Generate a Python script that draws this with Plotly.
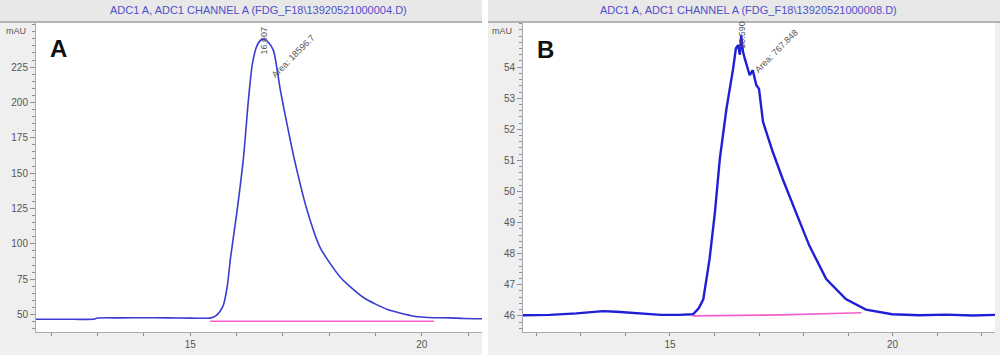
import plotly.graph_objects as go

W, H = 1000, 355

# ---------------- data ----------------
titles = ["ADC1 A, ADC1 CHANNEL A (FDG_F18\\13920521000004.D)",
          "ADC1 A, ADC1 CHANNEL A (FDG_F18\\13920521000008.D)"]
panel_labels = ["A", "B"]
x_ticks = [15, 20]
a_yticks = [50, 75, 100, 125, 150, 175, 200, 225]
b_yticks = [46, 47, 48, 49, 50, 51, 52, 53, 54]

# Chromatogram A (time in min, signal in mAU)
a_time = [11.67, 12.5, 12.9, 13.0, 13.5, 14.0, 14.5, 15.0, 15.3, 15.43, 15.55, 15.65, 15.72, 15.80, 15.87,
          16.01, 16.15, 16.26, 16.34, 16.44, 16.52, 16.60, 16.70, 16.80, 16.95, 17.09,
          17.24, 17.53, 17.81, 18.25, 18.75, 19.26, 19.83, 20.26, 20.6, 20.9, 21.3]
a_signal = [46.6, 46.6, 46.6, 47.5, 47.6, 47.7, 47.6, 47.4, 47.3, 47.4, 49.0, 52.5, 57.0, 70.0, 90.0,
            123.0, 161.0, 203.0, 227.0, 240.0, 244.0, 244.7, 242.0, 236.5, 208.0, 184.6,
            161.0, 123.0, 97.0, 76.0, 61.8, 53.5, 48.8, 47.7, 47.6, 47.2, 47.0]
a_base_time = [15.43, 20.26]
a_base_signal = [45.2, 45.2]
a_peak = dict(rt="16.607", area="Area: 18596.7")

# Chromatogram B
b_time = [11.7, 12.3, 12.9, 13.2, 13.5, 13.8, 14.1, 14.4, 14.8, 15.2, 15.52, 15.65, 15.75,
          15.89, 16.01, 16.12, 16.27, 16.42, 16.48, 16.53, 16.57, 16.60, 16.64, 16.68,
          16.73, 16.79, 16.86, 16.94, 17.0, 17.09, 17.31, 17.53, 17.83, 18.13, 18.51,
          18.95, 19.40, 19.99, 20.6, 21.2, 21.8, 22.3]
b_signal = [46.02, 46.03, 46.08, 46.12, 46.15, 46.13, 46.1, 46.06, 46.03, 46.03, 46.05, 46.25, 46.54,
            47.83, 49.33, 51.05, 52.67, 53.96, 54.6, 54.71, 54.4, 55.03, 54.5, 54.28,
            54.0, 53.74, 53.9, 53.42, 53.3, 52.24, 51.27, 50.41, 49.33, 48.26, 47.18,
            46.54, 46.2, 46.05, 46.02, 46.04, 46.01, 46.03]
b_base_time = [15.5, 17.5, 19.3]
b_base_signal = [46.0, 46.03, 46.1]
b_peak = dict(rt="16.590", area="Area: 767.848")

# ---------------- layout geometry (pixels) ----------------
def px_x(p):
    return p / W

def px_y(p):
    return 1 - p / H

fig = go.Figure()

blue_a = "#3b3bd0"
blue_b = "#1f1fd6"
magenta = "#f060d0"

fig.add_trace(go.Scatter(x=a_time, y=a_signal, mode="lines",
                         line=dict(color=blue_a, width=1.6, shape="spline", smoothing=0.6),
                         xaxis="x", yaxis="y", hoverinfo="skip"))
fig.add_trace(go.Scatter(x=a_base_time, y=a_base_signal, mode="lines", line=dict(color=magenta, width=1.6),
                         xaxis="x", yaxis="y", hoverinfo="skip"))
fig.add_trace(go.Scatter(x=b_time, y=b_signal, mode="lines", line=dict(color=blue_b, width=2.4),
                         xaxis="x2", yaxis="y2", hoverinfo="skip"))
fig.add_trace(go.Scatter(x=b_base_time, y=b_base_signal, mode="lines", line=dict(color=magenta, width=1.6),
                         xaxis="x2", yaxis="y2", hoverinfo="skip"))

tickfont = dict(family="Liberation Sans, Arial, sans-serif", size=10, color="#555555")
ydom = [px_y(332), px_y(23)]

common_x = dict(showgrid=False, zeroline=False, showline=True, linecolor="#a8a8b8", linewidth=1,
                ticks="outside", ticklen=3, tickcolor="#909090", tickmode="array", tickvals=x_ticks,
                tickfont=tickfont, minor=dict(dtick=1, tick0=0, ticks="outside", ticklen=3, tickcolor="#909090"),
                mirror=False, automargin=False)
common_y = dict(showgrid=False, zeroline=False, showline=True, linecolor="#a8a8b8", linewidth=1,
                ticks="outside", ticklen=5, tickcolor="#909090", tickfont=tickfont, mirror=False,
                automargin=False, tickmode="array")

fig.update_layout(
    width=W, height=H,
    margin=dict(l=0, r=0, t=0, b=0),
    paper_bgcolor="#efefef",
    plot_bgcolor="#ffffff",
    showlegend=False,
    xaxis=dict(domain=[px_x(36), px_x(482)], range=[11.67, 21.3], anchor="y", **common_x),
    yaxis=dict(domain=ydom, range=[37.6, 256.2], anchor="x", tickvals=a_yticks,
               minor=dict(dtick=5, tick0=0, ticks="outside", ticklen=3, tickcolor="#909090"), **common_y),
    xaxis2=dict(domain=[px_x(523), px_x(995)], range=[11.7, 22.3], anchor="y2", **common_x),
    yaxis2=dict(domain=ydom, range=[45.48, 55.42], anchor="x2", tickvals=b_yticks,
                minor=dict(dtick=0.2, tick0=0, ticks="outside", ticklen=3, tickcolor="#909090"), **common_y),
)

shapes = []
for x0, x1 in [(0, 482), (488, 1000)]:
    shapes.append(dict(type="rect", xref="paper", yref="paper", x0=px_x(x0), x1=px_x(x1),
                       y0=px_y(21), y1=1, fillcolor="#e8e8e8", line=dict(width=0), layer="below"))
    shapes.append(dict(type="rect", xref="paper", yref="paper", x0=px_x(x0), x1=px_x(x1),
                       y0=px_y(23), y1=px_y(21), fillcolor="#b4b4b4", line=dict(width=0), layer="below"))
shapes.append(dict(type="rect", xref="paper", yref="paper", x0=px_x(482), x1=px_x(488),
                   y0=0, y1=1, fillcolor="#ffffff", line=dict(width=0), layer="below"))
fig.update_layout(shapes=shapes)

ann = []
title_font = dict(family="Liberation Sans, Arial, sans-serif", size=11, color="#5050c8")
for t, cx in zip(titles, [258, 748]):
    ann.append(dict(text=t, xref="paper", yref="paper", x=px_x(cx), y=px_y(10.5),
                    showarrow=False, font=title_font, xanchor="center", yanchor="middle"))
for cx in [4, 490]:
    ann.append(dict(text="mAU", xref="paper", yref="paper", x=px_x(cx), y=px_y(31),
                    showarrow=False, xanchor="left", yanchor="middle",
                    font=dict(family="Liberation Sans, Arial, sans-serif", size=9, color="#555555")))
for lbl, cx, cy in zip(panel_labels, [58, 545], [48, 49]):
    ann.append(dict(text="<b>%s</b>" % lbl, xref="paper", yref="paper", x=px_x(cx), y=px_y(cy),
                    showarrow=False, xanchor="center", yanchor="middle",
                    font=dict(family="Liberation Sans, Arial, sans-serif", size=24, color="#111111")))

small = dict(family="Liberation Sans, Arial, sans-serif", size=9, color="#555555")
ann.append(dict(text=a_peak["rt"], xref="x", yref="y", x=16.6, y=244.0, textangle=-90,
                showarrow=False, font=small, xanchor="center", yanchor="middle"))
ann.append(dict(text=a_peak["area"], xref="x", yref="y", x=17.23, y=232.7, textangle=-45,
                showarrow=False, font=small, xanchor="center", yanchor="middle"))
ann.append(dict(text=b_peak["rt"], xref="x2", yref="y2", x=16.6, y=55.05, textangle=-90,
                showarrow=False, font=small, xanchor="center", yanchor="middle"))
ann.append(dict(text=b_peak["area"], xref="x2", yref="y2", x=17.39, y=54.52, textangle=-45,
                showarrow=False, font=small, xanchor="center", yanchor="middle"))
fig.update_layout(annotations=ann)

fig.write_html("out.html", config={"displayModeBar": False},
               post_script="document.body.style.margin='0';document.body.style.overflow='hidden';")
